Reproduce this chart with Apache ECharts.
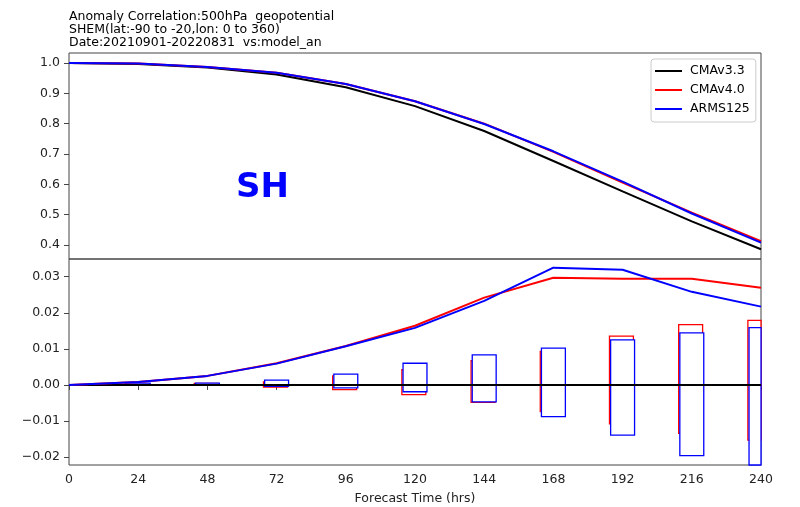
<!DOCTYPE html>
<html>
<head>
<meta charset="utf-8">
<script src="https://cdn.jsdelivr.net/npm/echarts@6/dist/echarts.min.js"></script>
<style>
html,body{margin:0;padding:0;background:#fff;}
#chart{width:800px;height:507px;}
</style>
</head>
<body>
<div id="chart"></div>
<script>
// ---- data ----
const hours = [0, 24, 48, 72, 96, 120, 144, 168, 192, 216, 240];
const xTicks = [0, 24, 48, 72, 96, 120, 144, 168, 192, 216, 240];
const yTopTicks = [0.4, 0.5, 0.6, 0.7, 0.8, 0.9, 1.0];
const yBotTicks = [-0.02, -0.01, 0.0, 0.01, 0.02, 0.03];

const seriesNames = ['CMAv3.3', 'CMAv4.0', 'ARMS125'];

// anomaly correlation (top panel)
const acCMAv33  = [1.000, 0.997, 0.985, 0.962, 0.920, 0.858, 0.776, 0.677, 0.577, 0.478, 0.386];
const acCMAv40  = [1.000, 0.998, 0.987, 0.968, 0.931, 0.874, 0.800, 0.707, 0.606, 0.507, 0.413];
const acARMS125 = [1.000, 0.998, 0.987, 0.968, 0.931, 0.874, 0.799, 0.709, 0.609, 0.504, 0.408];

// differences vs CMAv3.3 (bottom panel)
const diffCMAv33  = [0, 0, 0, 0, 0, 0, 0, 0, 0, 0, 0];
const diffCMAv40  = [0, 0.0008, 0.0025, 0.0060, 0.0108, 0.0164, 0.0242, 0.0297, 0.0294, 0.0294, 0.0269];
const diffARMS125 = [0, 0.0008, 0.0025, 0.0059, 0.0107, 0.0158, 0.0233, 0.0325, 0.0319, 0.0258, 0.0217];

// significance boxes (bottom, top)
const ciLowCMAv40   = [0, 0.0000, -0.0001, -0.0006, -0.0013, -0.0027, -0.0048, -0.0074, -0.0108, -0.0134, -0.0153];
const ciHighCMAv40  = [0, 0.0003,  0.0004,  0.0008,  0.0025,  0.0042,  0.0067,  0.0093,  0.0135,  0.0167,  0.0179];
const ciLowARMS125  = [0, 0.0000, -0.0001, -0.0004, -0.0008, -0.0019, -0.0047, -0.0088, -0.0139, -0.0196, -0.0235];
const ciHighARMS125 = [0, 0.0005,  0.0005,  0.0013,  0.0030,  0.0060,  0.0083,  0.0102,  0.0125,  0.0144,  0.0159];

// ---- chart ----
const FONT = 'DejaVu Sans';
const AXIS_COLOR = '#444';
const chart = echarts.init(document.getElementById('chart'), null, {renderer: 'canvas'});

function pairs(xs, ys) { return xs.map((x, i) => [x, ys[i]]); }
function boxData(xs, lo, hi) { return xs.map((x, i) => [x, lo[i], hi[i]]); }

function boxRenderer(color, offset) {
  const halfW = 4.15;
  return function (params, api) {
    const x = api.value(0), lo = api.value(1), hi = api.value(2);
    const p1 = api.coord([x - halfW + offset, hi]);
    const p2 = api.coord([x + halfW + offset, lo]);
    const rect = {x: p1[0], y: p1[1], width: p2[0] - p1[0], height: p2[1] - p1[1]};
    const cs = params.coordSys;
    const clipped = echarts.graphic.clipRectByRect(rect, {x: cs.x, y: cs.y, width: cs.width, height: cs.height});
    if (!clipped) return;
    return {
      type: 'rect',
      shape: clipped,
      style: {fill: '#fff', stroke: color, lineWidth: 1.3}
    };
  };
}

const lineCommon = {type: 'line', symbol: 'none', smooth: false, animation: false};

const option = {
  animation: false,
  backgroundColor: '#fff',
  textStyle: {fontFamily: FONT},
  title: {
    text: 'Anomaly Correlation:500hPa  geopotential\nSHEM(lat:-90 to -20,lon: 0 to 360)\nDate:20210901-20220831  vs:model_an',
    left: 64, top: 5,
    textStyle: {fontFamily: FONT, fontSize: 12.5, fontWeight: 'normal', color: '#000', lineHeight: 13}
  },
  legend: {
    data: seriesNames,
    orient: 'vertical',
    left: 651, top: 59,
    padding: [5, 6, 6, 4],
    itemGap: 5,
    itemWidth: 27, itemHeight: 2,
    icon: 'rect',
    borderColor: '#ccc', borderWidth: 1, borderRadius: 3,
    backgroundColor: 'rgba(255,255,255,0.8)',
    textStyle: {fontFamily: FONT, fontSize: 12.5, color: '#000', lineHeight: 14, padding: [0, 0, 0, 3]}
  },
  graphic: [{
    type: 'text',
    left: 236, top: 171,
    style: {text: 'SH', fill: '#0000ff', font: 'bold 34px "DejaVu Sans"'}
  }],
  grid: [
    {left: 69, top: 53, width: 692, height: 206, show: true, borderColor: AXIS_COLOR, borderWidth: 1},
    {left: 69, top: 259, width: 692, height: 206, show: true, borderColor: AXIS_COLOR, borderWidth: 1}
  ],
  xAxis: [
    {
      gridIndex: 0, type: 'value', min: 0, max: 240, interval: 24,
      axisLine: {show: false}, axisTick: {show: false}, axisLabel: {show: false}, splitLine: {show: false}
    },
    {
      gridIndex: 1, type: 'value', min: 0, max: 240, interval: 24,
      axisLine: {show: false},
      axisTick: {show: true, inside: false, length: 5, lineStyle: {color: AXIS_COLOR, width: 1}, customValues: xTicks},
      axisLabel: {show: true, margin: 8, fontFamily: FONT, fontSize: 12.5, color: '#222', customValues: xTicks},
      splitLine: {show: false},
      name: 'Forecast Time (hrs)', nameLocation: 'middle', nameGap: 27,
      nameTextStyle: {fontFamily: FONT, fontSize: 12.5, color: '#222'}
    }
  ],
  yAxis: [
    {
      gridIndex: 0, type: 'value', min: 0.354, max: 1.033,
      axisLine: {show: false},
      axisTick: {show: true, inside: false, length: 5, lineStyle: {color: AXIS_COLOR, width: 1}, customValues: yTopTicks},
      axisLabel: {show: true, margin: 9, fontFamily: FONT, fontSize: 12.5, color: '#222', customValues: yTopTicks,
        formatter: v => v.toFixed(1)},
      splitLine: {show: false}
    },
    {
      gridIndex: 1, type: 'value', min: -0.0222, max: 0.0349,
      axisLine: {show: false},
      axisTick: {show: true, inside: false, length: 5, lineStyle: {color: AXIS_COLOR, width: 1}, customValues: yBotTicks},
      axisLabel: {show: true, margin: 9, fontFamily: FONT, fontSize: 12.5, color: '#222', customValues: yBotTicks,
        formatter: v => (v < -1e-9 ? '\u2212' + Math.abs(v).toFixed(2) : Math.abs(v).toFixed(2))},
      splitLine: {show: false}
    }
  ],
  series: [
    Object.assign({}, lineCommon, {name: 'CMAv3.3', xAxisIndex: 0, yAxisIndex: 0, data: pairs(hours, acCMAv33),
      color: '#000000', lineStyle: {color: '#000000', width: 2}, z: 2}),
    Object.assign({}, lineCommon, {name: 'CMAv4.0', xAxisIndex: 0, yAxisIndex: 0, data: pairs(hours, acCMAv40),
      color: '#ff0000', lineStyle: {color: '#ff0000', width: 2}, z: 3}),
    Object.assign({}, lineCommon, {name: 'ARMS125', xAxisIndex: 0, yAxisIndex: 0, data: pairs(hours, acARMS125),
      color: '#0000ff', lineStyle: {color: '#0000ff', width: 2}, z: 4}),

    {type: 'custom', name: 'CMAv4.0 box', xAxisIndex: 1, yAxisIndex: 1, z: 2,
      renderItem: boxRenderer('#ff0000', -0.4), data: boxData(hours, ciLowCMAv40, ciHighCMAv40), animation: false},
    {type: 'custom', name: 'ARMS125 box', xAxisIndex: 1, yAxisIndex: 1, z: 3,
      renderItem: boxRenderer('#0000ff', 0), data: boxData(hours, ciLowARMS125, ciHighARMS125), animation: false},

    Object.assign({}, lineCommon, {name: 'CMAv3.3', xAxisIndex: 1, yAxisIndex: 1, data: pairs(hours, diffCMAv33),
      color: '#000000', lineStyle: {color: '#000000', width: 2}, z: 4}),
    Object.assign({}, lineCommon, {name: 'CMAv4.0', xAxisIndex: 1, yAxisIndex: 1, data: pairs(hours, diffCMAv40),
      color: '#ff0000', lineStyle: {color: '#ff0000', width: 2}, z: 5}),
    Object.assign({}, lineCommon, {name: 'ARMS125', xAxisIndex: 1, yAxisIndex: 1, data: pairs(hours, diffARMS125),
      color: '#0000ff', lineStyle: {color: '#0000ff', width: 2}, z: 6})
  ]
};
chart.setOption(option);
</script>
</body>
</html>
